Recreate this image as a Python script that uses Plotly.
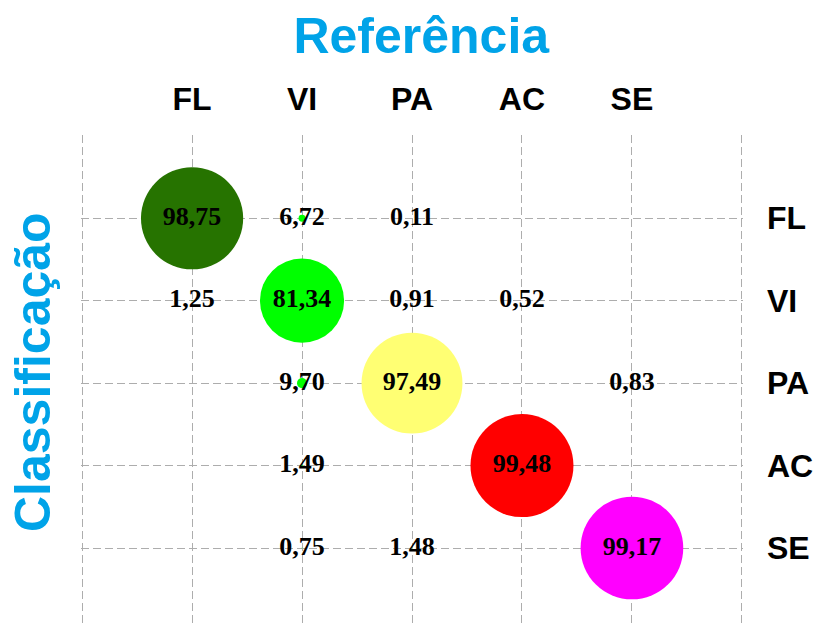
import plotly.graph_objects as go

# Land-cover classes (reference columns / classified rows) and their colours
classes = ["FL", "VI", "PA", "AC", "SE"]
class_colors = ["#267300", "#00FF00", "#FFFF73", "#FF0000", "#FF00FF"]

# Confusion-matrix cells (%): reference class, classified class, value
ref_class = ["FL", "VI", "PA",
             "FL", "VI", "PA", "AC",
             "VI", "PA", "SE",
             "VI", "AC",
             "VI", "PA", "SE"]
cls_class = ["FL", "FL", "FL",
             "VI", "VI", "VI", "VI",
             "PA", "PA", "PA",
             "AC", "AC",
             "SE", "SE", "SE"]
percent = [98.75, 6.72, 0.11,
           1.25, 81.34, 0.91, 0.52,
           9.70, 97.49, 0.83,
           1.49, 99.48,
           0.75, 1.48, 99.17]

TITLE_BLUE = "#00A3E8"

xs = [classes.index(c) + 1 for c in ref_class]
ys = [classes.index(c) + 1 for c in cls_class]
colors = [class_colors[classes.index(c)] for c in ref_class]
labels = [f"{v:.2f}".replace(".", ",") for v in percent]
sizes = [v * 1.035 for v in percent]

fig = go.Figure(
    go.Scatter(
        x=xs,
        y=ys,
        mode="markers+text",
        text=labels,
        textposition="middle center",
        textfont=dict(family="Liberation Serif", size=26, color="black", weight="bold"),
        marker=dict(size=sizes, sizemode="diameter", color=colors, opacity=1,
                    line=dict(width=0)),
        hoverinfo="skip",
        cliponaxis=False,
    )
)

grid_vals = list(range(0, len(classes) + 2))
tick_text = [""] + classes + [""]
axis_font = dict(family="Liberation Sans", size=32, color="black", weight="bold")
pad = 0.01  # keeps the outer grid lines inside the plotting area

fig.update_xaxes(
    range=[-pad, len(classes) + 1 + pad],
    tickvals=grid_vals,
    ticktext=tick_text,
    side="top",
    ticks="",
    tickfont=axis_font,
    ticklabelstandoff=18,
    showgrid=True,
    gridcolor="#ADADAD",
    griddash="8px,4px",
    gridwidth=1,
    zeroline=False,
    showline=False,
)
fig.update_yaxes(
    range=[5.934, -pad],
    tickvals=grid_vals,
    ticktext=tick_text,
    side="right",
    ticks="",
    tickfont=axis_font,
    ticklabelstandoff=23,
    showgrid=True,
    gridcolor="#ADADAD",
    griddash="8px,4px",
    gridwidth=1,
    zeroline=False,
    showline=False,
)

fig.update_layout(
    width=816,
    height=625,
    margin=dict(l=81, r=73, t=135, b=0, pad=0),
    paper_bgcolor="white",
    plot_bgcolor="white",
    showlegend=False,
    title=dict(
        text="Referência",
        x=0.514, xref="paper", xanchor="center",
        y=1 - 35 / 625, yref="container", yanchor="middle",
        font=dict(family="Liberation Sans", size=50, color=TITLE_BLUE, weight="bold"),
    ),
    annotations=[
        dict(
            text="Classificação",
            x=-0.0727, xref="paper", xanchor="center",
            y=0.516, yref="paper", yanchor="middle",
            textangle=-90,
            showarrow=False,
            font=dict(family="Liberation Sans", size=50, color=TITLE_BLUE, weight="bold"),
        )
    ],
)

fig.write_html("out.html")
